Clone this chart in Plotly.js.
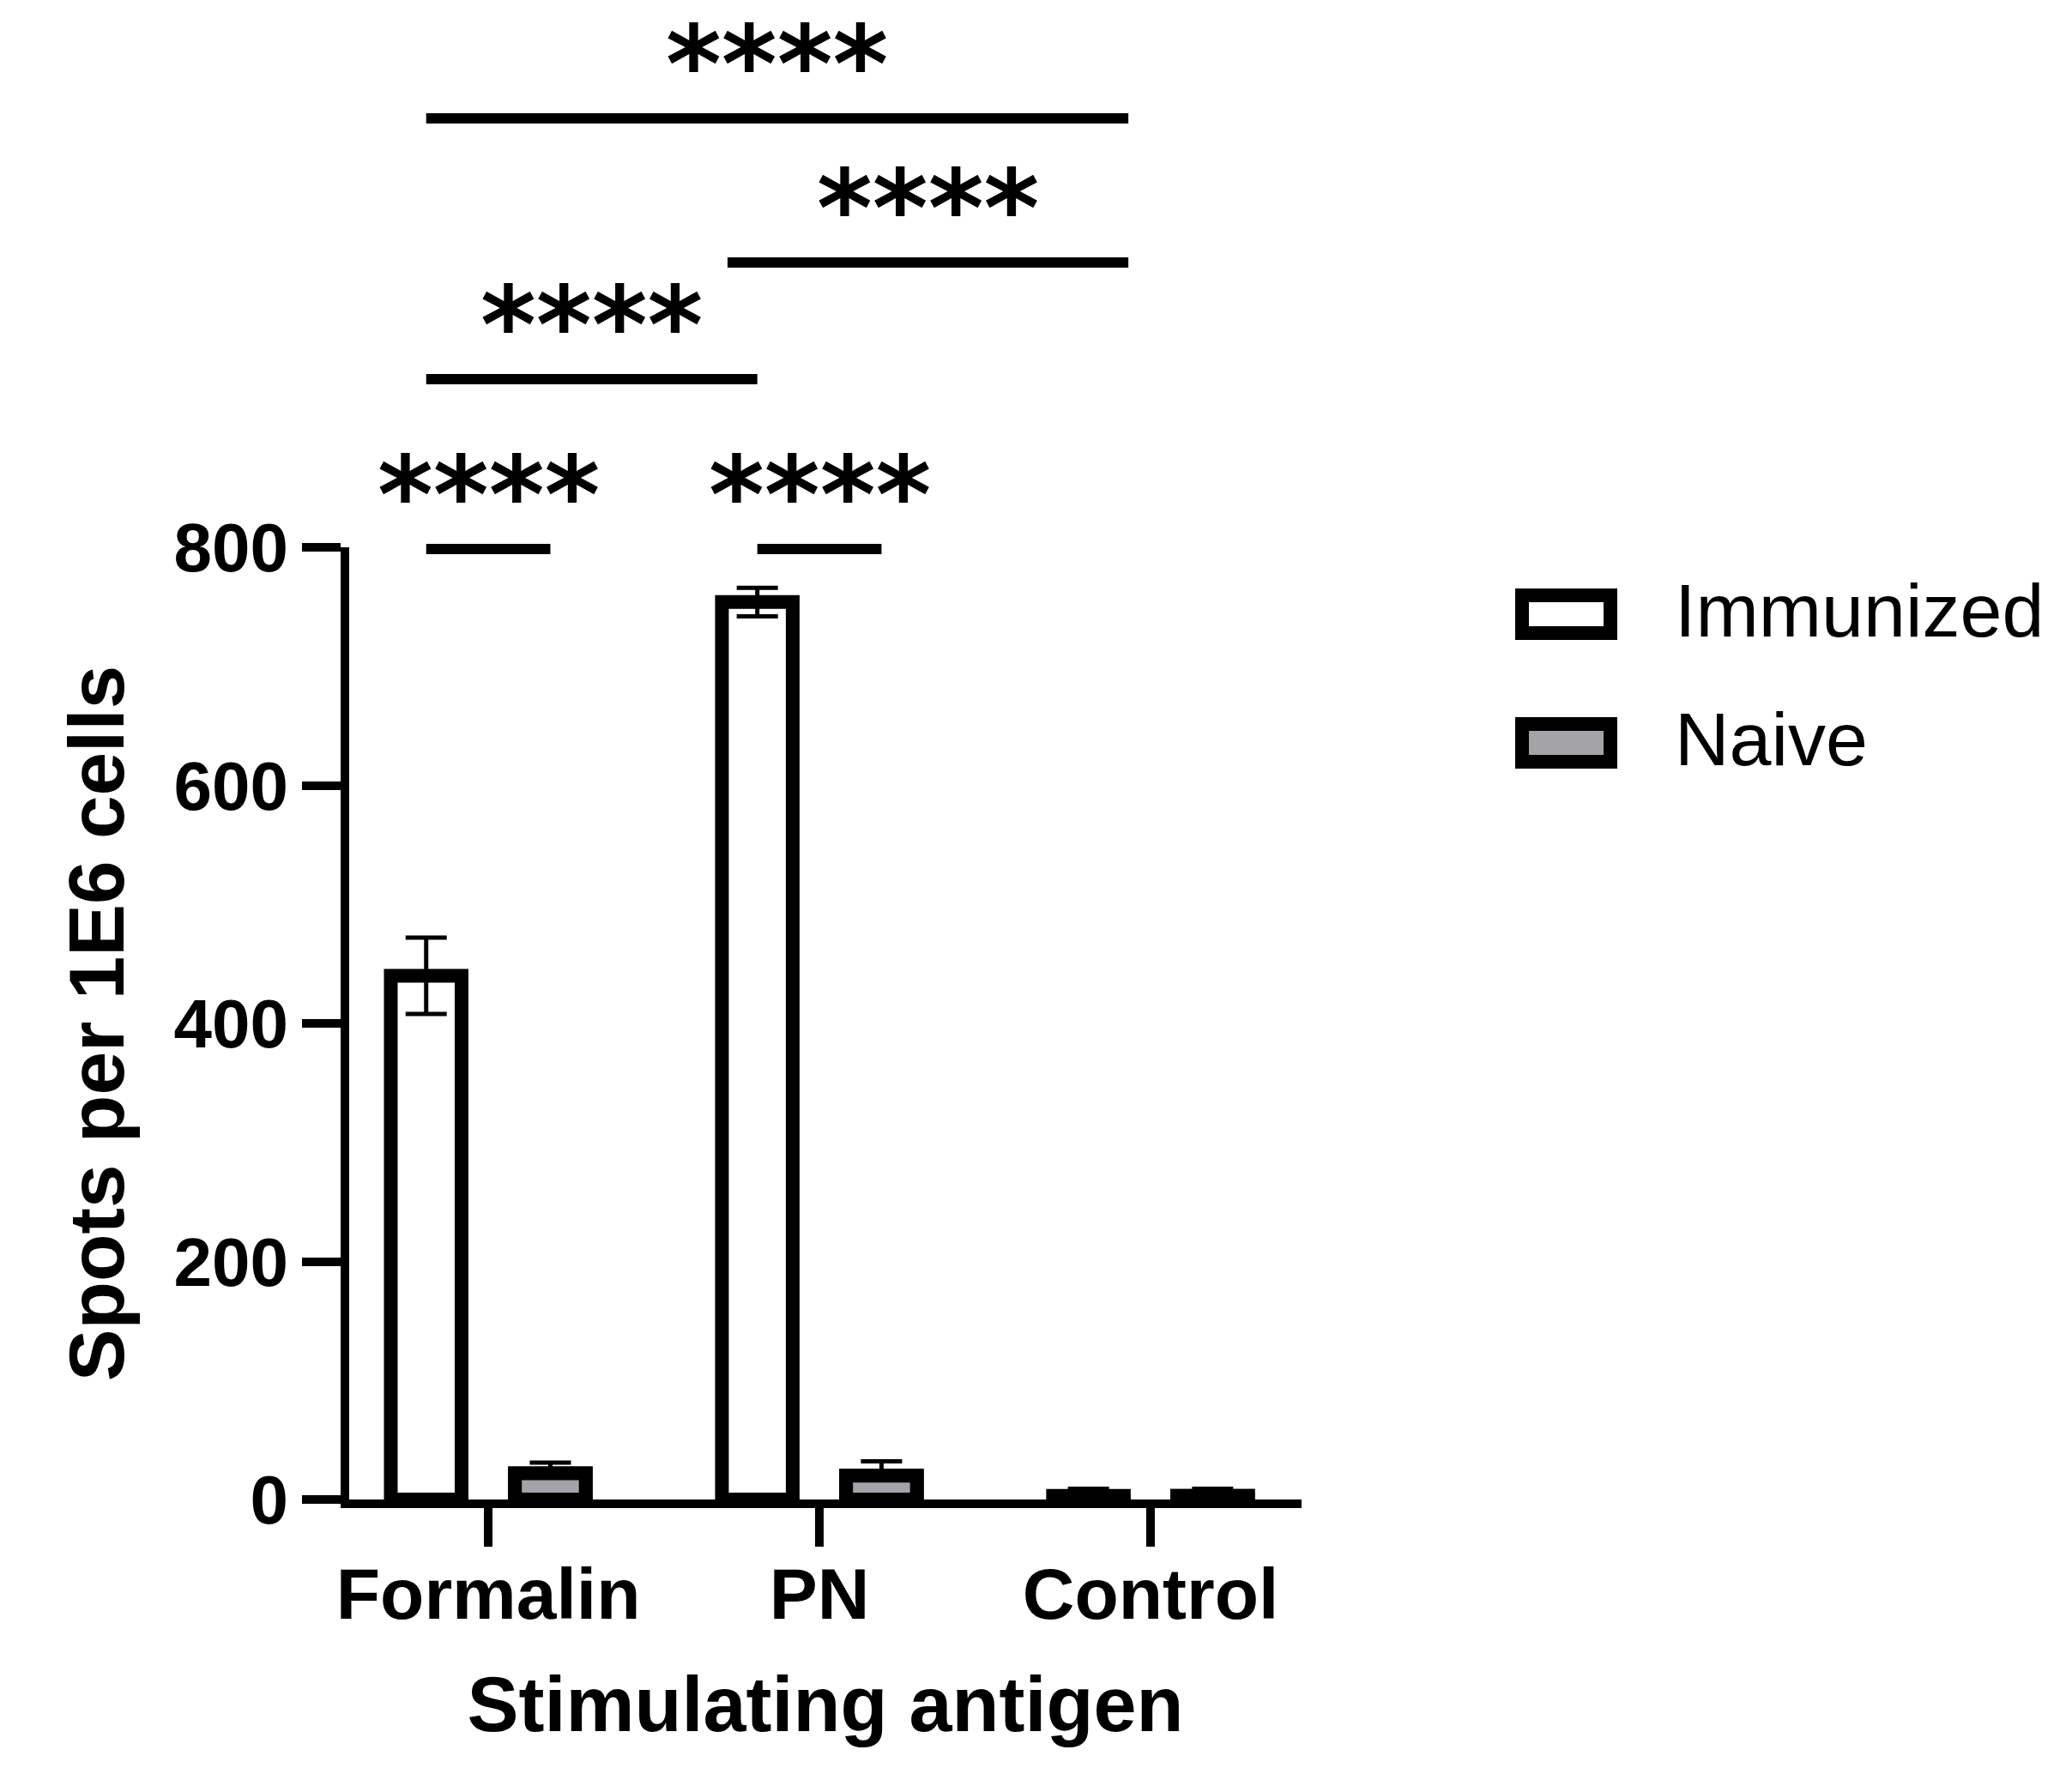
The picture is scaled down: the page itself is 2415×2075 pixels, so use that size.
<!DOCTYPE html>
<html>
<head>
<meta charset="utf-8">
<script src="https://cdn.plot.ly/plotly-3.0.1.min.js"></script>
<style>html,body{margin:0;padding:0;background:#fff;}</style>
</head>
<body>
<div id="chart" style="width:2415px;height:2075px;"></div>
<script>
// ---- data ----
var categories = ["Formalin", "PN", "Control"];
var immunized = [440, 754, 3];
var immunizedErr = [32, 12, 6];
var naive = [22, 20, 3];
var naiveErr = [9, 12, 6];
var seriesNames = ["Immunized", "Naive"];
var yTicks = [0, 200, 400, 600, 800];
// significance brackets: [x0, x1] in category units, label
var bracketX0 = [-0.1875, 0.8125, -0.1875, 0.7225, -0.1875];
var bracketX1 = [0.1875, 1.1875, 0.8125, 1.933, 1.933];
var bracketLabels = ["****", "****", "****", "****", "****"];

// ---- layout geometry (pixels) ----
var W = 2415, H = 2075;
var L = 407, R = 1517, T = 638, B = 1748;
var pw = R - L, ph = B - T;
function py(p) { return (B - p) / ph; }
function pxp(p) { return (p - L) / pw; }
var bracketPixY = [640, 640, 442, 306, 138];

var FONT = "Liberation Sans, Arial, sans-serif";
var GRAY = "#a4a4a8";

var traces = [
  {
    type: "bar", name: seriesNames[0], x: categories, y: immunized, offsetgroup: "imm",
    marker: {color: "#ffffff", line: {color: "#000000", width: 16}},
    error_y: {type: "data", array: immunizedErr, visible: true, color: "#000000", thickness: 5, width: 24},
    showlegend: false
  },
  {
    // naive error bars (drawn first so the bar body covers their lower half, as in the original)
    type: "bar", name: seriesNames[1], x: categories, y: naive, offsetgroup: "naive",
    marker: {color: GRAY, line: {color: "#000000", width: 16}},
    error_y: {type: "data", array: naiveErr, visible: true, color: "#000000", thickness: 5, width: 24},
    showlegend: false
  },
  {
    type: "bar", name: seriesNames[1], x: categories, y: naive, offsetgroup: "naive",
    marker: {color: GRAY, line: {color: "#000000", width: 16}},
    showlegend: false
  }
];

var shapes = [];
var annotations = [];
for (var i = 0; i < bracketX0.length; i++) {
  var yy = py(bracketPixY[i]);
  shapes.push({type: "line", xref: "x", yref: "paper", x0: bracketX0[i], x1: bracketX1[i], y0: yy, y1: yy,
    line: {color: "#000000", width: 12}});
  annotations.push({xref: "x", yref: "paper", x: (bracketX0[i] + bracketX1[i]) / 2, y: py(bracketPixY[i] - 62),
    text: bracketLabels[i], showarrow: false, xanchor: "center", yanchor: "middle",
    font: {family: "DejaVu Sans", size: 124, color: "#000000", weight: "bold"}});
}
// legend (custom)
var legendFill = ["#ffffff", GRAY];
var legendBoxY = [[694, 738], [844, 888]];
var legendTextY = [711, 861];
for (var k = 0; k < seriesNames.length; k++) {
  shapes.push({type: "rect", xref: "paper", yref: "paper", x0: pxp(1774), x1: pxp(1877),
    y0: py(legendBoxY[k][1]), y1: py(legendBoxY[k][0]), fillcolor: legendFill[k],
    line: {color: "#000000", width: 16}});
  annotations.push({xref: "paper", yref: "paper", x: pxp(1950), y: py(legendTextY[k]), text: seriesNames[k],
    showarrow: false, xanchor: "left", yanchor: "middle",
    font: {family: FONT, size: 88, color: "#000000"}});
}

var layout = {
  width: W, height: H,
  margin: {l: L, r: W - R, t: T, b: H - B, pad: 0},
  paper_bgcolor: "#ffffff", plot_bgcolor: "#ffffff",
  barmode: "group", bargap: 0.25, bargroupgap: 0.43,
  showlegend: false,
  font: {family: FONT, color: "#000000"},
  xaxis: {
    type: "category", range: [-0.42, 2.456], fixedrange: true,
    showline: true, linecolor: "#000000", linewidth: 10,
    ticks: "outside", ticklen: 45, tickwidth: 10, tickcolor: "#000000",
    ticklabelstandoff: -17,
    showgrid: false, zeroline: false,
    tickfont: {family: FONT, size: 84, color: "#000000", weight: "bold"},
    title: {text: "Stimulating antigen", font: {family: FONT, size: 90, color: "#000000", weight: "bold"}, standoff: 55}
  },
  yaxis: {
    range: [0, 800], fixedrange: true, tickmode: "array", tickvals: yTicks, ticktext: yTicks.map(String),
    showline: true, linecolor: "#000000", linewidth: 10,
    ticks: "outside", ticklen: 45, tickwidth: 10, tickcolor: "#000000",
    showgrid: false, zeroline: false,
    tickfont: {family: FONT, size: 80, color: "#000000", weight: "bold"},
    title: {text: "Spots per 1E6 cells", font: {family: FONT, size: 91, color: "#000000", weight: "bold"}, standoff: 32}
  },
  shapes: shapes,
  annotations: annotations
};

Plotly.newPlot("chart", traces, layout, {displayModeBar: false, staticPlot: true});
</script>
</body>
</html>
